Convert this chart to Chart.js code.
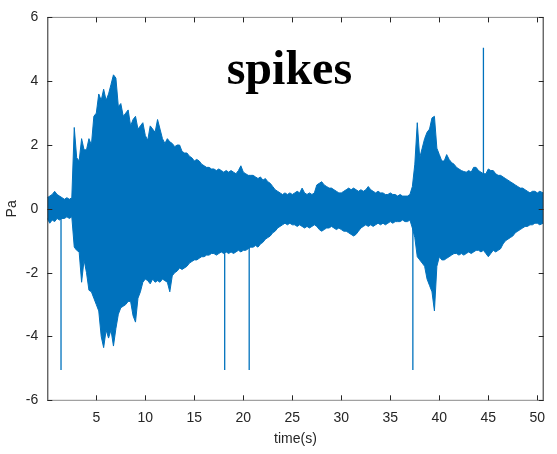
<!DOCTYPE html>
<html>
<head>
<meta charset="utf-8">
<script src="https://cdn.jsdelivr.net/npm/chart.js@4/dist/chart.umd.min.js"></script>
<style>
html,body{margin:0;padding:0;background:#fff;}
#wrap{width:557px;height:454px;position:relative;}
</style>
</head>
<body>
<div id="wrap"><canvas id="c" width="557" height="454"></canvas></div>
<script>
// ---- data ----
const TITLE = 'spikes';
const X_LABEL = 'time(s)';
const Y_LABEL = 'Pa';
const X_TICKS = [5, 10, 15, 20, 25, 30, 35, 40, 45, 50];
const Y_TICKS = [-6, -4, -2, 0, 2, 4, 6];

// sample times (s) of the envelope readings
const TIME = [
 0,0.25,0.5,0.75,1,1.25,1.5,1.75,
 2,2.25,2.5,2.75,3,3.25,3.5,3.75,
 4,4.25,4.5,4.75,5,5.25,5.5,5.75,
 6,6.25,6.5,6.75,7,7.25,7.5,7.75,
 8,8.25,8.5,8.75,9,9.25,9.5,9.75,
 10,10.25,10.5,10.75,11,11.25,11.5,11.75,
 12,12.25,12.5,12.75,13,13.25,13.5,13.75,
 14,14.25,14.5,14.75,15,15.25,15.5,15.75,
 16,16.25,16.5,16.75,17,17.25,17.5,17.75,
 18,18.25,18.5,18.75,19,19.25,19.5,19.75,
 20,20.25,20.5,20.75,21,21.25,21.5,21.75,
 22,22.25,22.5,22.75,23,23.25,23.5,23.75,
 24,24.25,24.5,24.75,25,25.25,25.5,25.75,
 26,26.25,26.5,26.75,27,27.25,27.5,27.75,
 28,28.25,28.5,28.75,29,29.25,29.5,29.75,
 30,30.25,30.5,30.75,31,31.25,31.5,31.75,
 32,32.25,32.5,32.75,33,33.25,33.5,33.75,
 34,34.25,34.5,34.75,35,35.25,35.5,35.75,
 36,36.25,36.5,36.75,37,37.25,37.5,37.75,
 38,38.25,38.5,38.75,39,39.25,39.5,39.75,
 40,40.25,40.5,40.75,41,41.25,41.5,41.75,
 42,42.25,42.5,42.75,43,43.25,43.5,43.75,
 44,44.25,44.5,44.75,45,45.25,45.5,45.75,
 46,46.25,46.5,46.75,47,47.25,47.5,47.75,
 48,48.25,48.5,48.75,49,49.25,49.5,49.75,
 50,50.25,50.6
];

// upper envelope of the pressure signal (Pa)
const UPPER = [
 0.35,0.4,0.45,0.55,0.45,0.4,0.35,0.3,
 0.35,0.3,0.35,2.55,1.6,1.5,2.2,1.85,
 1.85,2.2,2.0,2.9,3.0,3.6,3.4,3.75,
 3.4,3.6,3.9,4.2,4.1,3.2,3.3,2.9,
 3.0,3.1,2.6,2.8,2.9,2.5,2.6,2.7,
 2.3,2.15,2.6,2.5,2.4,2.8,2.5,2.2,
 2.05,2.2,2.1,2.05,1.95,2.0,2.0,1.8,
 1.75,1.75,1.65,1.6,1.5,1.55,1.5,1.4,
 1.35,1.3,1.3,1.25,1.25,1.2,1.25,1.2,
 1.15,1.2,1.15,1.2,1.15,1.1,1.2,1.35,
 1.15,1.1,1.05,1.05,1.05,1.0,0.95,1.0,
 0.9,0.95,0.85,0.8,0.7,0.6,0.55,0.5,
 0.45,0.5,0.45,0.5,0.45,0.5,0.55,0.5,
 0.65,0.5,0.45,0.5,0.45,0.5,0.75,0.8,
 0.85,0.75,0.7,0.65,0.65,0.6,0.55,0.5,
 0.5,0.55,0.6,0.65,0.6,0.65,0.6,0.55,
 0.6,0.55,0.6,0.7,0.6,0.55,0.5,0.55,
 0.5,0.5,0.45,0.45,0.5,0.45,0.45,0.4,
 0.45,0.4,0.4,0.4,0.45,0.7,1.4,2.7,
 1.6,1.9,2.2,2.4,2.5,2.85,2.9,1.9,
 1.7,1.5,1.5,1.7,1.55,1.45,1.4,1.3,
 1.25,1.2,1.17,1.15,1.2,1.15,1.3,1.3,
 1.2,1.15,1.1,1.1,1.25,1.2,1.2,1.1,
 1.05,1.05,1.0,0.95,0.9,0.85,0.8,0.75,
 0.7,0.65,0.65,0.6,0.55,0.5,0.55,0.55,
 0.5,0.55,0.5
];

// lower envelope of the pressure signal (Pa)
const LOWER = [
 -0.3,-0.45,-0.35,-0.4,-0.3,-0.35,-0.3,-0.3,
 -0.25,-0.3,-0.25,-1.2,-1.3,-1.35,-2.3,-1.6,
 -2.0,-2.55,-2.6,-2.8,-3.0,-3.2,-4.0,-4.35,
 -3.8,-4.05,-3.8,-4.3,-3.75,-3.3,-3.1,-3.05,
 -3.0,-2.9,-2.9,-3.35,-3.55,-2.8,-2.6,-2.3,
 -2.2,-2.25,-2.35,-2.2,-2.3,-2.25,-2.3,-2.2,
 -2.25,-2.3,-2.6,-2.1,-2.0,-1.95,-1.85,-1.9,
 -1.85,-1.8,-1.7,-1.65,-1.6,-1.6,-1.55,-1.5,
 -1.5,-1.45,-1.45,-1.4,-1.4,-1.45,-1.4,-1.35,
 -1.4,-1.35,-1.4,-1.35,-1.4,-1.35,-1.3,-1.35,
 -1.3,-1.3,-1.25,-1.2,-1.2,-1.15,-1.2,-1.1,
 -1.05,-0.95,-0.9,-0.85,-0.75,-0.7,-0.6,-0.55,
 -0.5,-0.45,-0.5,-0.45,-0.5,-0.5,-0.55,-0.5,
 -0.55,-0.6,-0.55,-0.6,-0.55,-0.5,-0.55,-0.65,
 -0.7,-0.65,-0.6,-0.6,-0.55,-0.6,-0.65,-0.6,
 -0.65,-0.7,-0.7,-0.75,-0.8,-0.85,-0.8,-0.7,
 -0.6,-0.55,-0.5,-0.55,-0.5,-0.55,-0.5,-0.45,
 -0.5,-0.45,-0.5,-0.45,-0.4,-0.45,-0.4,-0.4,
 -0.4,-0.35,-0.4,-0.4,-0.35,-0.6,-0.9,-1.5,
 -1.6,-1.7,-1.8,-2.2,-2.4,-2.6,-3.2,-1.8,
 -1.5,-1.6,-1.6,-1.55,-1.5,-1.45,-1.4,-1.4,
 -1.45,-1.4,-1.45,-1.4,-1.35,-1.4,-1.35,-1.3,
 -1.3,-1.35,-1.3,-1.4,-1.5,-1.4,-1.3,-1.35,
 -1.3,-1.25,-1.1,-1.0,-0.95,-0.9,-0.85,-0.75,
 -0.7,-0.65,-0.6,-0.55,-0.55,-0.5,-0.5,-0.45,
 -0.45,-0.5,-0.45
];

// isolated spikes: time (s) and peak value (Pa)
const SPIKE_T = [1.4, 18.1, 20.6, 37.3, 44.5];
const SPIKE_V = [-5.05, -5.05, -5.05, -5.05, 5.05];

// ---- chart ----
const BLUE = '#0072BD';
const AXIS = '#262626';
const upperPts = TIME.map((t, i) => ({x: t, y: UPPER[i]}));
const lowerPts = TIME.map((t, i) => ({x: t, y: LOWER[i]}));
const spikePts = [];
SPIKE_T.forEach((t, i) => {
  spikePts.push({x: t, y: 0}, {x: t, y: SPIKE_V[i]}, {x: t, y: null});
});

const boxPlugin = {
  id: 'box',
  afterDatasetsDraw(chart) {
    const {ctx, chartArea: a, scales} = chart;
    const xs = scales.x, ys = scales.y;
    ctx.save();
    ctx.strokeStyle = AXIS;
    ctx.lineWidth = 1;
    ctx.beginPath();
    ctx.moveTo(a.left + 0.5, a.top); ctx.lineTo(a.left + 0.5, a.bottom);
    ctx.moveTo(a.right - 0.5, a.top); ctx.lineTo(a.right - 0.5, a.bottom);
    ctx.stroke();
    ctx.strokeStyle = '#8a8a8a';
    ctx.beginPath();
    ctx.moveTo(a.left, a.top); ctx.lineTo(a.right, a.top);
    ctx.moveTo(a.left, a.bottom); ctx.lineTo(a.right, a.bottom);
    ctx.stroke();
    ctx.strokeStyle = AXIS;
    ctx.beginPath();
    const L = 5;
    X_TICKS.forEach(v => {
      const px = Math.round(xs.getPixelForValue(v)) + 0.5;
      ctx.moveTo(px, a.bottom); ctx.lineTo(px, a.bottom - L);
      ctx.moveTo(px, a.top); ctx.lineTo(px, a.top + L);
    });
    Y_TICKS.forEach(v => {
      const py = Math.round(ys.getPixelForValue(v)) + 0.5;
      ctx.moveTo(a.left, py); ctx.lineTo(a.left + L, py);
      ctx.moveTo(a.right, py); ctx.lineTo(a.right - L, py);
    });
    ctx.stroke();
    // title inside the axes
    ctx.fillStyle = '#000';
    ctx.font = 'bold 48px "Liberation Serif", serif';
    ctx.textAlign = 'center';
    ctx.textBaseline = 'alphabetic';
    ctx.fillText(TITLE, xs.getPixelForValue(24.7), ys.getPixelForValue(3.9));
    ctx.restore();
  }
};

new Chart(document.getElementById('c'), {
  type: 'line',
  data: {
    datasets: [
      {data: upperPts, borderColor: BLUE, backgroundColor: BLUE, borderWidth: 1, pointRadius: 0, fill: '+1', tension: 0},
      {data: lowerPts, borderColor: BLUE, backgroundColor: BLUE, borderWidth: 1, pointRadius: 0, fill: false, tension: 0},
      {data: spikePts, borderColor: BLUE, borderWidth: 1.3, pointRadius: 0, fill: false, spanGaps: false, tension: 0}
    ]
  },
  options: {
    responsive: false,
    animation: false,
    parsing: true,
    layout: {padding: {top: 9.5, right: 13.3, left: 0, bottom: 0}},
    plugins: {legend: {display: false}, tooltip: {enabled: false}},
    scales: {
      x: {
        type: 'linear', min: 0, max: 50.65,
        afterBuildTicks: s => { s.ticks = X_TICKS.map(v => ({value: v})); },
        afterFit: s => { s.height = 53.7; },
        grid: {display: false, drawTicks: false},
        border: {display: false},
        ticks: {color: AXIS, font: {family: '"Liberation Sans", Arial, sans-serif', size: 14}, padding: 9, maxRotation: 0, autoSkip: false},
        title: {display: true, text: X_LABEL, color: AXIS, font: {family: '"Liberation Sans", Arial, sans-serif', size: 14}, padding: {top: 4, bottom: 6}}
      },
      y: {
        type: 'linear', min: -6, max: 6,
        afterBuildTicks: s => { s.ticks = Y_TICKS.map(v => ({value: v})); },
        afterFit: s => { s.width = 47.3; },
        grid: {display: false, drawTicks: false},
        border: {display: false},
        ticks: {color: AXIS, font: {family: '"Liberation Sans", Arial, sans-serif', size: 14}, padding: 9, autoSkip: false},
        title: {display: true, text: Y_LABEL, color: AXIS, font: {family: '"Liberation Sans", Arial, sans-serif', size: 14}, padding: {top: 4, bottom: 0}}
      }
    }
  },
  plugins: [boxPlugin]
});
</script>
</body>
</html>
